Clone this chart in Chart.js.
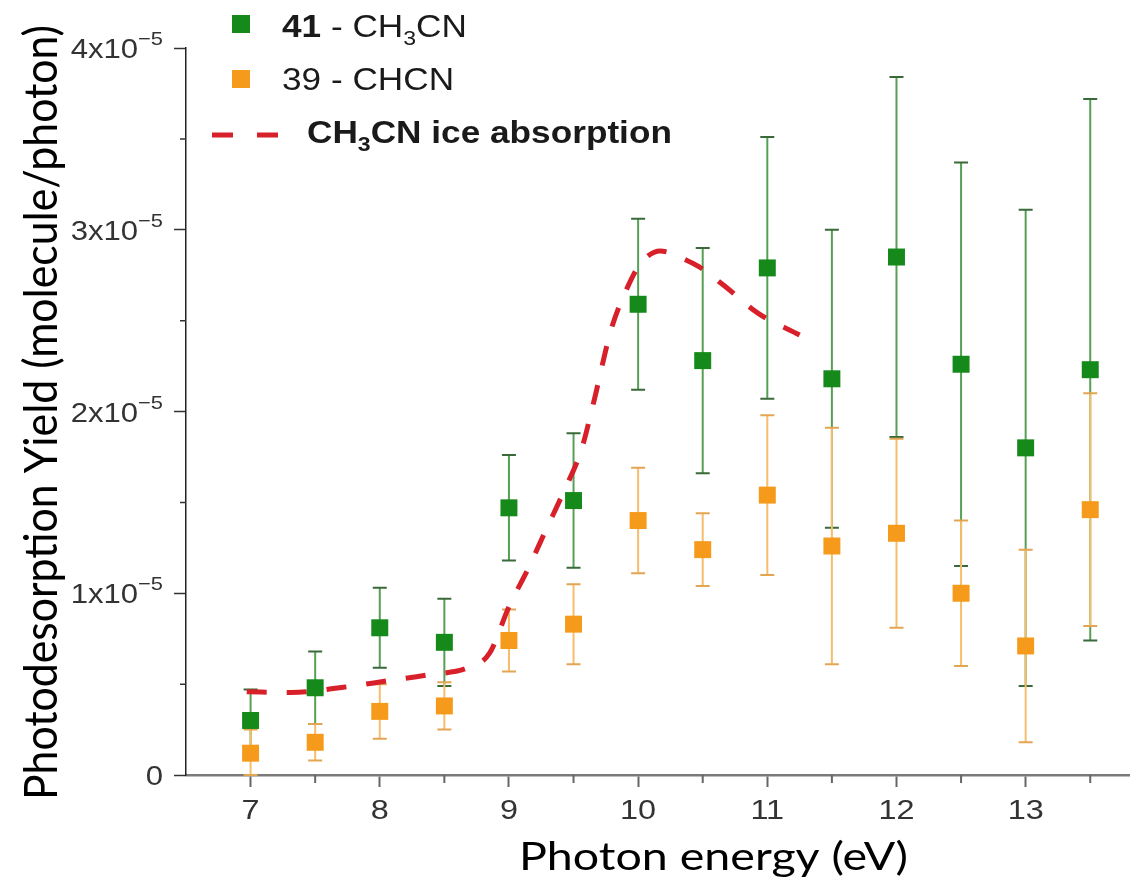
<!DOCTYPE html>
<html>
<head>
<meta charset="utf-8">
<script src="https://cdn.jsdelivr.net/npm/chart.js@4.4.0/dist/chart.umd.min.js"></script>
<style>
html,body{margin:0;padding:0;background:#fff;}
#wrap{width:1141px;height:893px;position:relative;}
</style>
</head>
<body>
<div id="wrap"><canvas id="c"></canvas></div>
<script>
// ---- data (yields in molecule/photon) ----
const UNIT = 1e-5;
const energies   = [7, 7.5, 8, 8.5, 9, 9.5, 10, 10.5, 11, 11.5, 12, 12.5, 13, 13.5];
const yieldCH3CN = [0.30e-5, 0.48e-5, 0.81e-5, 0.73e-5, 1.47e-5, 1.51e-5, 2.59e-5, 2.28e-5, 2.79e-5, 2.18e-5, 2.85e-5, 2.26e-5, 1.80e-5, 2.23e-5];
const errCH3CN   = [0.17e-5, 0.20e-5, 0.22e-5, 0.24e-5, 0.29e-5, 0.37e-5, 0.47e-5, 0.62e-5, 0.72e-5, 0.82e-5, 0.99e-5, 1.11e-5, 1.31e-5, 1.49e-5];
const yieldCHCN  = [0.12e-5, 0.18e-5, 0.35e-5, 0.38e-5, 0.74e-5, 0.83e-5, 1.40e-5, 1.24e-5, 1.54e-5, 1.26e-5, 1.33e-5, 1.00e-5, 0.71e-5, 1.46e-5];
const errCHCN    = [0.13e-5, 0.10e-5, 0.15e-5, 0.13e-5, 0.17e-5, 0.22e-5, 0.29e-5, 0.20e-5, 0.44e-5, 0.65e-5, 0.52e-5, 0.40e-5, 0.53e-5, 0.64e-5];
const absEnergy  = [6.97, 7.31, 7.72, 8.05, 8.36, 8.69, 8.85, 9.00, 9.15, 9.28, 9.43, 9.56, 9.66, 9.79, 9.92, 10.02, 10.17, 10.37, 10.47, 10.66, 10.93, 11.25];
const absValue   = [0.458e-5, 0.454e-5, 0.483e-5, 0.517e-5, 0.55e-5, 0.592e-5, 0.67e-5, 0.926e-5, 1.137e-5, 1.339e-5, 1.568e-5, 1.788e-5, 2.063e-5, 2.448e-5, 2.687e-5, 2.815e-5, 2.883e-5, 2.834e-5, 2.797e-5, 2.696e-5, 2.54e-5, 2.421e-5];
const xMajorTicks = [7, 8, 9, 10, 11, 12, 13];
const xMinorTicks = [7.5, 8.5, 9.5, 10.5, 11.5, 12.5, 13.5];
const yMajorTicks = [0, 1e-5, 2e-5, 3e-5, 4e-5];
const yMinorTicks = [0.5e-5, 1.5e-5, 2.5e-5, 3.5e-5];
const seriesLabels = ['41 - CH3CN', '39 - CHCN', 'CH3CN ice absorption'];
const xTitle = 'Photon energy (eV)';
const yTitle = 'Photodesorption Yield (molecule/photon)';

const GREEN = '#15891a', ORANGE = '#f59a1b', RED = '#d8202a';
const SANS = '"Liberation Sans", Arial, sans-serif';
const TITLE_FONT = 'Lato, "Open Sans", sans-serif';

function stretchedText(ctx, str, x, y, font, sx, align, color) {
  ctx.save();
  ctx.font = font;
  ctx.fillStyle = color;
  ctx.textBaseline = 'alphabetic';
  ctx.textAlign = 'left';
  const w = ctx.measureText(str).width * sx;
  let x0 = x;
  if (align === 'right') x0 = x - w;
  else if (align === 'center') x0 = x - w / 2;
  ctx.translate(x0, y);
  ctx.scale(sx, 1);
  ctx.fillText(str, 0, 0);
  ctx.restore();
  return w;
}
function richText(ctx, segs, x, y, sx, color) {
  let cx = x;
  segs.forEach(s => {
    cx += stretchedText(ctx, s.t, cx, y + (s.dy || 0), s.font, sx, 'left', color);
  });
}

const errorBars = {
  id: 'errorBars',
  beforeDatasetsDraw(chart) {
    const {ctx, scales: {x, y}} = chart;
    const draw = (vals, errs, lineColor, capColor) => {
      ctx.save();
      vals.forEach((v, i) => {
        const px = x.getPixelForValue(energies[i]);
        const top = y.getPixelForValue(v + errs[i]);
        const bot = y.getPixelForValue(Math.max(0, v - errs[i]));
        ctx.strokeStyle = lineColor; ctx.lineWidth = 2;
        ctx.beginPath(); ctx.moveTo(px, top); ctx.lineTo(px, bot); ctx.stroke();
        ctx.strokeStyle = capColor; ctx.lineWidth = 2;
        ctx.beginPath();
        ctx.moveTo(px - 7, top); ctx.lineTo(px + 7, top);
        ctx.moveTo(px - 7, bot); ctx.lineTo(px + 7, bot);
        ctx.stroke();
      });
      ctx.restore();
    };
    draw(yieldCH3CN, errCH3CN, '#55a055', '#3a6a3a');
    draw(yieldCHCN, errCHCN, '#f6bd6a', '#e3a552');
  }
};

const decorations = {
  id: 'decorations',
  afterDraw(chart) {
    const {ctx, chartArea: ca, scales: {x, y}} = chart;
    ctx.save();
    // minor ticks
    ctx.strokeStyle = '#666'; ctx.lineWidth = 2;
    ctx.beginPath();
    xMinorTicks.forEach(v => { const px = x.getPixelForValue(v); ctx.moveTo(px, ca.bottom); ctx.lineTo(px, ca.bottom + 8); });
    ctx.stroke();
    ctx.strokeStyle = '#333'; ctx.lineWidth = 1.5;
    ctx.beginPath();
    yMinorTicks.forEach(v => { const py = y.getPixelForValue(v); ctx.moveTo(ca.left, py); ctx.lineTo(ca.left - 6, py); });
    ctx.stroke();
    ctx.restore();

    // x tick labels
    x.ticks.forEach(t => {
      const px = x.getPixelForValue(t.value);
      stretchedText(ctx, String(t.value), px, ca.bottom + 44, '27px ' + SANS, 1.2, 'center', '#333');
    });
    // y tick labels
    y.ticks.forEach(t => {
      const py = y.getPixelForValue(t.value);
      const k = Math.round(t.value / UNIT);
      const right = ca.left - 23;
      if (k === 0) {
        stretchedText(ctx, '0', right, py + 10, '27px ' + SANS, 1.15, 'right', '#333');
      } else {
        const sw = stretchedText(ctx, '\u22125', right, py - 3, '19px ' + SANS, 1.15, 'right', '#333');
        stretchedText(ctx, k + 'x10', right - sw, py + 10, '27px ' + SANS, 1.15, 'right', '#333');
      }
    });

    // x title
    ctx.save();
    ctx.font = '39px ' + TITLE_FONT;
    const xw = ctx.measureText(xTitle).width;
    ctx.restore();
    const xsx = 389 / xw;
    stretchedText(ctx, xTitle, (ca.left + ca.right) / 2 + 56, ca.bottom + 95, '39px ' + TITLE_FONT, xsx, 'center', '#000');

    // y title
    ctx.save();
    ctx.font = '39px ' + TITLE_FONT;
    const yw = ctx.measureText(yTitle).width;
    ctx.translate(ca.left - 129, (ca.top + ca.bottom) / 2 + 1);
    ctx.rotate(-Math.PI / 2);
    ctx.scale(775 / yw, 1.18);
    ctx.fillStyle = '#000';
    ctx.textAlign = 'center';
    ctx.textBaseline = 'alphabetic';
    ctx.fillText(yTitle, 0, 0);
    ctx.restore();

    // legend
    const L = ca.left, T = ca.top;
    const bold = 'bold 32px ' + SANS, reg = '32px ' + SANS;
    const subB = 'bold 21px ' + SANS, subR = '21px ' + SANS;
    ctx.save();
    ctx.fillStyle = GREEN; ctx.fillRect(L + 46, T - 33, 18, 18);
    ctx.fillStyle = ORANGE; ctx.fillRect(L + 46, T + 22, 18, 18);
    ctx.strokeStyle = RED; ctx.lineWidth = 5; ctx.setLineDash([21, 24]);
    ctx.beginPath(); ctx.moveTo(L + 26, T + 87); ctx.lineTo(L + 93, T + 87); ctx.stroke();
    ctx.restore();
    richText(ctx, [{t: '41', font: bold}, {t: ' - CH', font: reg}, {t: '3', font: subR, dy: 8}, {t: 'CN', font: reg}], L + 96, T - 11, 1.1, '#1a1a1a');
    richText(ctx, [{t: '39 - CHCN', font: reg}], L + 96, T + 42, 1.1, '#1a1a1a');
    richText(ctx, [{t: 'CH', font: bold}, {t: '3', font: subB, dy: 8}, {t: 'CN ice absorption', font: bold}], L + 121, T + 95, 1.1, '#1a1a1a');
  }
};

new Chart(document.getElementById('c'), {
  type: 'scatter',
  data: {
    datasets: [
      {
        label: seriesLabels[0],
        data: energies.map((e, i) => ({x: e, y: yieldCH3CN[i]})),
        pointStyle: 'rect', pointRadius: 12, pointHoverRadius: 12,
        backgroundColor: GREEN, borderColor: GREEN, borderWidth: 0, order: 2
      },
      {
        label: seriesLabels[1],
        data: energies.map((e, i) => ({x: e, y: yieldCHCN[i]})),
        pointStyle: 'rect', pointRadius: 12, pointHoverRadius: 12,
        backgroundColor: ORANGE, borderColor: ORANGE, borderWidth: 0, order: 1
      },
      {
        type: 'line',
        label: seriesLabels[2],
        data: absEnergy.map((e, i) => ({x: e, y: absValue[i]})),
        borderColor: RED, borderWidth: 5, borderDash: [20, 20],
        pointRadius: 0, fill: false, cubicInterpolationMode: 'monotone', order: 3
      }
    ]
  },
  options: {
    responsive: true, maintainAspectRatio: false, animation: false, devicePixelRatio: 1,
    layout: {padding: {top: 48, right: 4, left: 0, bottom: 0}},
    plugins: {legend: {display: false}, tooltip: {enabled: false}},
    scales: {
      x: {
        type: 'linear', min: 6.5, max: 13.8,
        afterBuildTicks: s => { s.ticks = xMajorTicks.map(v => ({value: v})); },
        afterFit: s => { s.height = 118; },
        grid: {drawOnChartArea: false, drawTicks: true, tickLength: 12, tickColor: '#666', tickWidth: 2},
        border: {display: true, color: '#7a7a7a', width: 2.5},
        ticks: {display: false}
      },
      y: {
        type: 'linear', min: 0, max: 4e-5,
        afterBuildTicks: s => { s.ticks = yMajorTicks.map(v => ({value: v})); },
        afterFit: s => { s.width = 186; },
        grid: {drawOnChartArea: false, drawTicks: true, tickLength: 12, tickColor: '#333', tickWidth: 1.5},
        border: {display: true, color: '#222', width: 1.5},
        ticks: {display: false}
      }
    }
  },
  plugins: [errorBars, decorations]
});
</script>
</body>
</html>
